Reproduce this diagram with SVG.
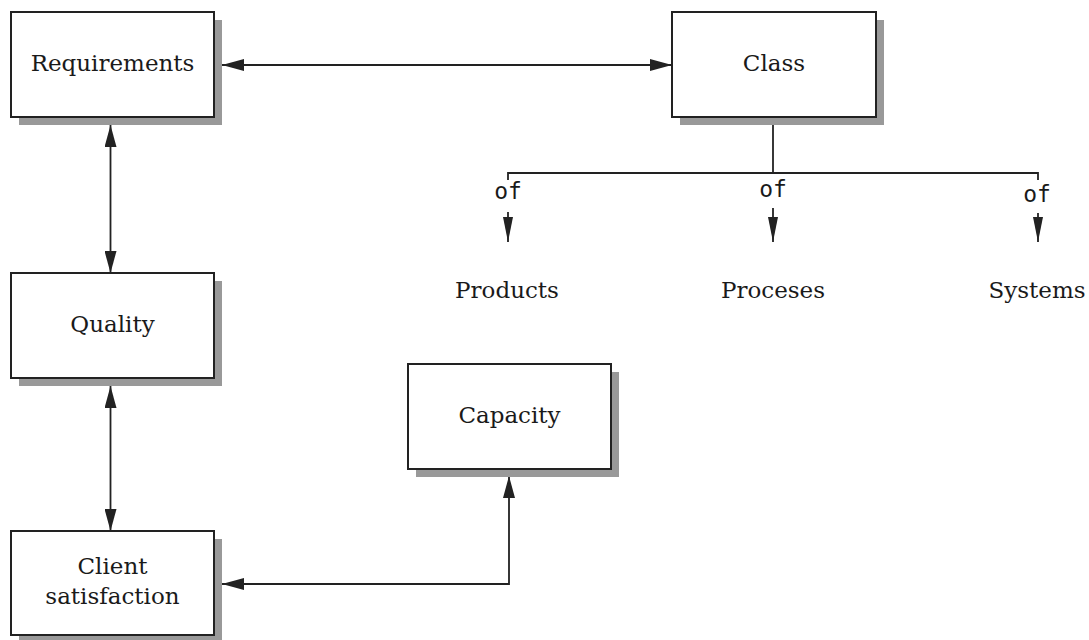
<svg xmlns="http://www.w3.org/2000/svg" width="1089" height="640" viewBox="0 0 1089 640">
  <style>
    .box { fill: #ffffff; stroke: #222222; stroke-width: 2; }
    .shadow { fill: #999999; }
    .label { font-family: "DejaVu Serif", "Liberation Serif", serif; font-size: 23px; fill: #1a1a1a; text-anchor: middle; }
    .of { font-family: "DejaVu Sans Mono", "Liberation Mono", monospace; font-size: 23px; fill: #1a1a1a; text-anchor: middle; }
    .link { fill: none; stroke: #222222; stroke-width: 1.8; }
    .both { marker-start: url(#head); marker-end: url(#head); }
    .down { marker-end: url(#thin); }
  </style>
  <defs>
    <marker id="head" markerUnits="userSpaceOnUse" markerWidth="22" markerHeight="12" refX="22" refY="6" orient="auto-start-reverse">
      <path d="M0,0 L22,6 L0,12 Z" fill="#222222"/>
    </marker>
    <marker id="thin" markerUnits="userSpaceOnUse" markerWidth="25" markerHeight="10" refX="25" refY="5" orient="auto">
      <path d="M0,0 L25,5 L0,10 Z" fill="#222222"/>
    </marker>
  </defs>

  <!-- connectors -->
  <g id="connectors">
    <line class="link both" x1="222" y1="65" x2="672" y2="65"/>
    <line class="link both" x1="110.5" y1="125" x2="110.5" y2="273"/>
    <line class="link both" x1="110.5" y1="386" x2="110.5" y2="531"/>
    <path class="link both" d="M222,584 H509 V476"/>
    <!-- class breakdown -->
    <path class="link" d="M773,117 V173"/>
    <path class="link" d="M508,180 V173 H1038 V180"/>
    <line class="link down" x1="508" y1="212" x2="508" y2="242"/>
    <line class="link down" x1="773" y1="208" x2="773" y2="242"/>
    <line class="link down" x1="1038" y1="213" x2="1038" y2="242"/>
    <text class="of" x="508" y="199">of</text>
    <text class="of" x="773" y="197">of</text>
    <text class="of" x="1037" y="202">of</text>
  </g>

  <g id="requirements">
    <rect class="shadow" x="19" y="20" width="203" height="105"/>
    <rect class="box" x="11" y="12" width="203" height="105"/>
    <text class="label" x="112.5" y="71">Requirements</text>
  </g>

  <g id="class">
    <rect class="shadow" x="680" y="20" width="204" height="105"/>
    <rect class="box" x="672" y="12" width="204" height="105"/>
    <text class="label" x="774" y="71">Class</text>
  </g>

  <g id="quality">
    <rect class="shadow" x="19" y="281" width="203" height="105"/>
    <rect class="box" x="11" y="273" width="203" height="105"/>
    <text class="label" x="112.5" y="332">Quality</text>
  </g>

  <g id="capacity">
    <rect class="shadow" x="416" y="372" width="203" height="105"/>
    <rect class="box" x="408" y="364" width="203" height="105"/>
    <text class="label" x="509.5" y="423">Capacity</text>
  </g>

  <g id="client-satisfaction">
    <rect class="shadow" x="19" y="539" width="203" height="104"/>
    <rect class="box" x="11" y="531" width="203" height="104"/>
    <text class="label" x="112.5" y="574">Client</text>
    <text class="label" x="112.5" y="604">satisfaction</text>
  </g>

  <g id="products">
    <text class="label" x="507" y="298">Products</text>
  </g>
  <g id="proceses">
    <text class="label" x="773" y="298">Proceses</text>
  </g>
  <g id="systems">
    <text class="label" x="1037" y="298">Systems</text>
  </g>
</svg>
